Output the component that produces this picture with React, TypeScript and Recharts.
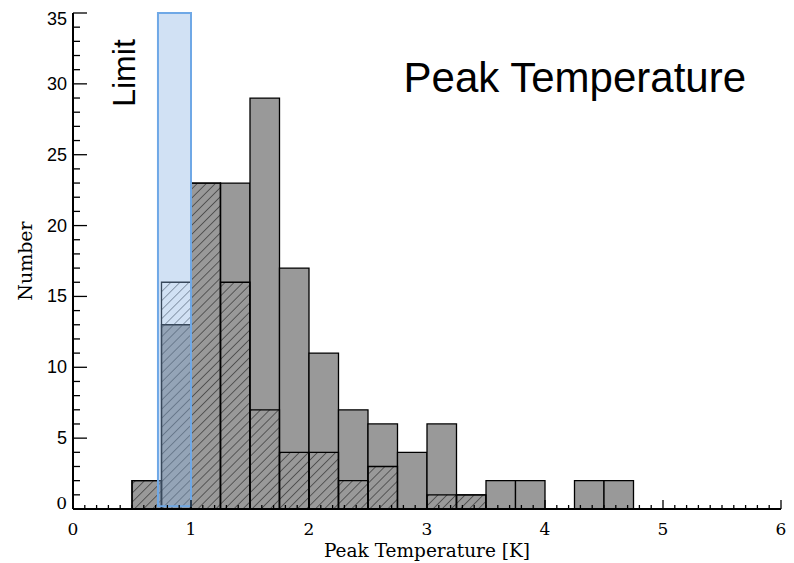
import React from 'react';
import { ComposedChart, XAxis, YAxis, ReferenceArea } from 'recharts';

// ---- data ----
const binStarts = [0.5, 0.75, 1.0, 1.25, 1.5, 1.75, 2.0, 2.25, 2.5, 2.75, 3.0, 3.25, 3.5, 3.75, 4.0, 4.25, 4.5];
const totalCounts = [2, 13, 23, 23, 29, 17, 11, 7, 6, 4, 6, 1, 2, 2, 0, 2, 2];
const hatchedCounts = [2, 16, 23, 16, 7, 4, 4, 2, 3, 0, 1, 1, 0, 0, 0, 0, 0];
const binWidth = 0.25;
const limitStart = 0.72;
const limitEnd = 1.0;
const xDomain = [0, 6];
const yDomain = [0, 35];
const xMajorTicks = [0, 1, 2, 3, 4, 5, 6];
const yMajorTicks = [0, 5, 10, 15, 20, 25, 30, 35];
const xMinorPerMajor = 10;
const yMinorPerMajor = 5;
const titleText = 'Peak Temperature';
const limitText = 'Limit';
const xTitle = 'Peak Temperature [K]';
const yTitle = 'Number';

const W = 794;
const H = 563;

const chartData = binStarts.map((s, i) => ({ x: s + binWidth / 2, total: totalCounts[i], hatched: hatchedCounts[i] }));

const buildTicks = (majors: number[], per: number) => {
  const out: number[] = [];
  for (let i = 0; i < majors.length - 1; i++) {
    const a = majors[i];
    const b = majors[i + 1];
    for (let k = 0; k < per; k++) out.push(+(a + ((b - a) * k) / per).toFixed(4));
  }
  out.push(majors[majors.length - 1]);
  return out;
};
const xTicks = buildTicks(xMajorTicks, xMinorPerMajor);
const yTicks = buildTicks(yMajorTicks, yMinorPerMajor);
const isMajor = (v: number, majors: number[]) => majors.some((m) => Math.abs(m - v) < 1e-6);

const SERIF = '"DejaVu Serif", "Liberation Serif", serif';
const SANS = '"Liberation Sans", Arial, sans-serif';

const BottomTick = (p: any) => {
  const { x, y, payload } = p;
  const v = payload.value;
  const major = isMajor(v, xMajorTicks);
  return (
    <g>
      <line x1={x} x2={x} y1={y} y2={y - (major ? 9 : 4)} stroke="#000" strokeWidth={1.3} />
      {major && (
        <text x={x} y={y + 26} textAnchor="middle" fontFamily={SERIF} fontSize={17} fill="#000">
          {Math.round(v)}
        </text>
      )}
    </g>
  );
};

const TopTick = (p: any) => {
  const { x, y, payload } = p;
  const major = isMajor(payload.value, xMajorTicks);
  return <line x1={x} x2={x} y1={y} y2={y + (major ? 8 : 4)} stroke="#000" strokeWidth={1.3} />;
};

const LeftTick = (p: any) => {
  const { x, y, payload } = p;
  const v = payload.value;
  const major = isMajor(v, yMajorTicks);
  let dy = 6;
  if (v === yDomain[1]) dy = 12;
  if (v === yDomain[0]) dy = 0;
  return (
    <g>
      <line x1={x} x2={x + (major ? 14 : 7)} y1={y} y2={y} stroke="#000" strokeWidth={1.3} />
      {major && (
        <text
          x={x - 6}
          y={y + dy}
          textAnchor="end"
          fontFamily={v === 0 ? SERIF : SANS}
          fontSize={v === 0 ? 17 : 18}
          fill="#000"
        >
          {v}
        </text>
      )}
    </g>
  );
};

const RightTick = (p: any) => {
  const { x, y, payload } = p;
  const major = isMajor(payload.value, yMajorTicks);
  return <line x1={x} x2={x - (major ? 10 : 5)} y1={y} y2={y} stroke="#000" strokeWidth={1.3} />;
};

const XTitle = (p: any) => {
  const vb = p.viewBox || {};
  const cx = vb.x + vb.width / 2;
  return (
    <text x={cx} y={vb.y + 48} textAnchor="middle" fontFamily={SERIF} fontSize={18.5} fill="#000">
      {xTitle}
    </text>
  );
};

const YTitle = (p: any) => {
  const vb = p.viewBox || {};
  const cy = vb.y + vb.height / 2;
  const cx = 25;
  return (
    <text
      x={cx}
      y={cy}
      transform={`rotate(-90 ${cx} ${cy})`}
      textAnchor="middle"
      dominantBaseline="central"
      fontFamily={SERIF}
      fontSize={19}
      fill="#000"
    >
      {yTitle}
    </text>
  );
};

const LimitLabel = (p: any) => {
  const vb = p.viewBox || {};
  const cx = vb.x - 34;
  const cy = vb.y + 60;
  return (
    <text
      x={cx}
      y={cy}
      transform={`rotate(-90 ${cx} ${cy})`}
      textAnchor="middle"
      dominantBaseline="central"
      fontFamily={SANS}
      fontSize={32}
      fill="#000"
    >
      {limitText}
    </text>
  );
};

export default function App() {
  return (
    <div style={{ position: 'absolute', left: 0, top: 0, width: W, height: H, background: '#fff' }}>
      <svg width={0} height={0} style={{ position: 'absolute' }}>
        <defs>
          <pattern id="hatch" patternUnits="userSpaceOnUse" width={6.4} height={6.4} patternTransform="rotate(45)">
            <line x1={0} y1={0} x2={0} y2={6.4} stroke="#111" strokeWidth={1} />
          </pattern>
        </defs>
      </svg>
      <ComposedChart width={W} height={H} data={chartData} margin={{ top: 13, right: 13, left: 0, bottom: 0 }}>
        <XAxis
          xAxisId="b"
          dataKey="x"
          type="number"
          domain={xDomain}
          ticks={xTicks}
          interval={0}
          tick={BottomTick}
          tickLine={false}
          tickSize={0}
          tickMargin={0}
          height={54}
          allowDataOverflow
          axisLine={{ stroke: '#000', strokeWidth: 2 }}
          label={<XTitle />}
        />
        <XAxis
          xAxisId="t"
          orientation="top"
          dataKey="x"
          type="number"
          domain={xDomain}
          ticks={xTicks}
          interval={0}
          tick={TopTick}
          tickLine={false}
          tickSize={0}
          tickMargin={0}
          height={0}
          allowDataOverflow
          axisLine={{ stroke: '#000', strokeWidth: 2 }}
        />
        <YAxis
          yAxisId="l"
          type="number"
          domain={yDomain}
          ticks={yTicks}
          interval={0}
          tick={LeftTick}
          tickLine={false}
          tickSize={0}
          tickMargin={0}
          width={73}
          allowDataOverflow
          axisLine={{ stroke: '#000', strokeWidth: 2 }}
          label={<YTitle />}
        />
        <YAxis
          yAxisId="r"
          orientation="right"
          type="number"
          domain={yDomain}
          ticks={yTicks}
          interval={0}
          tick={RightTick}
          tickLine={false}
          tickSize={0}
          tickMargin={0}
          width={0}
          allowDataOverflow
          axisLine={{ stroke: '#000', strokeWidth: 2 }}
        />
        {binStarts.map((s, i) =>
          totalCounts[i] > 0 ? (
            <ReferenceArea
              key={'t' + i}
              xAxisId="b"
              yAxisId="l"
              x1={s}
              x2={s + binWidth}
              y1={0}
              y2={totalCounts[i]}
              fill="#999999"
              fillOpacity={1}
              stroke="#000"
              strokeWidth={1.3}
              ifOverflow="visible"
            />
          ) : null
        )}
        {binStarts.map((s, i) =>
          hatchedCounts[i] > 0 ? (
            <ReferenceArea
              key={'h' + i}
              xAxisId="b"
              yAxisId="l"
              x1={s}
              x2={s + binWidth}
              y1={0}
              y2={hatchedCounts[i]}
              fill="url(#hatch)"
              fillOpacity={1}
              stroke="#000"
              strokeWidth={1.3}
              ifOverflow="visible"
            />
          ) : null
        )}
        <ReferenceArea
          xAxisId="b"
          yAxisId="l"
          x1={limitStart}
          x2={limitEnd}
          y1={0.2}
          y2={yDomain[1]}
          fill="#8cb4e4"
          fillOpacity={0.4}
          stroke="#6fa8e6"
          strokeOpacity={1}
          strokeWidth={2}
          ifOverflow="visible"
          label={<LimitLabel />}
        />
      </ComposedChart>
      <svg width={W} height={H} style={{ position: 'absolute', left: 0, top: 0, pointerEvents: 'none' }}>
        <text x={746} y={92} textAnchor="end" fontFamily={SANS} fontSize={42} fill="#000">
          {titleText}
        </text>
      </svg>
    </div>
  );
}
